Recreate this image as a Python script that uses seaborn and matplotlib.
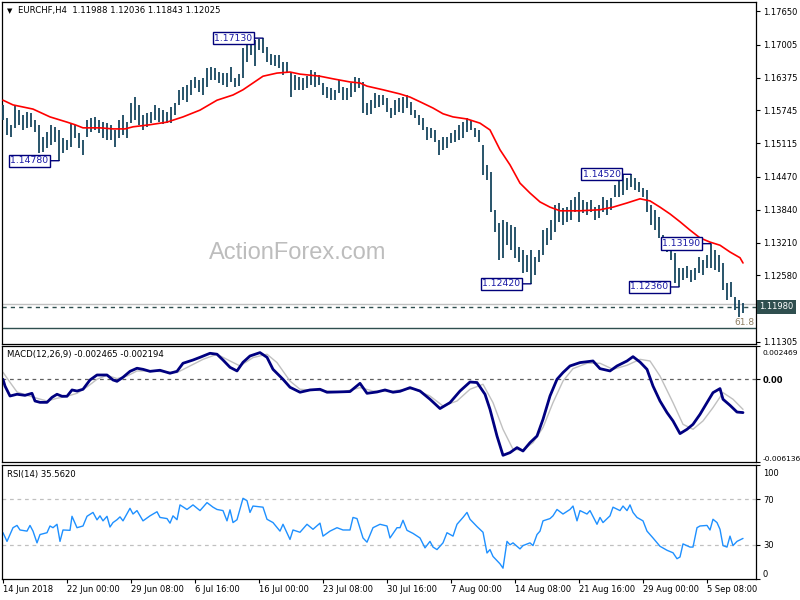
import numpy as np
import matplotlib
matplotlib.use("Agg")
import matplotlib.pyplot as plt
import matplotlib.transforms as mtransforms
import seaborn as sns

sns.set_style("white")
plt.rcParams["font.family"] = ["DejaVu Sans"]

# ---------------- data ----------------
highs = [1.1585, 1.1560, 1.1547, 1.1585, 1.1575, 1.1566, 1.1571, 1.1570, 1.1556, 1.1547,
         1.1524, 1.1533, 1.1547, 1.1543, 1.1537, 1.1522, 1.1518, 1.1550, 1.1547, 1.1531,
         1.1518, 1.1556, 1.1560, 1.1562, 1.1556, 1.1552, 1.1550, 1.1547, 1.1537, 1.1556,
         1.1566, 1.1552, 1.1589, 1.1600, 1.1585, 1.1566, 1.1570, 1.1571, 1.1585, 1.1579,
         1.1575, 1.1571, 1.1581, 1.1589, 1.1614, 1.1619, 1.1623, 1.1633, 1.1639, 1.1633,
         1.1637, 1.1656, 1.1658, 1.1656, 1.1648, 1.1646, 1.1646, 1.1658, 1.1637, 1.1644,
         1.1694, 1.1710, 1.1711, 1.1709, 1.1712, 1.1713, 1.1696, 1.1683, 1.1681, 1.1681,
         1.1667, 1.1667, 1.1648, 1.1642, 1.1639, 1.1637, 1.1640, 1.1652, 1.1648, 1.1642,
         1.1627, 1.1619, 1.1617, 1.1614, 1.1633, 1.1619, 1.1617, 1.1627, 1.1639, 1.1637,
         1.1629, 1.1589, 1.1594, 1.1608, 1.1604, 1.1604, 1.1598, 1.1579, 1.1594, 1.1598,
         1.1600, 1.1604, 1.1591, 1.1575, 1.1566, 1.1560, 1.1543, 1.1541, 1.1537, 1.1518,
         1.1524, 1.1524, 1.1531, 1.1537, 1.1547, 1.1552, 1.1560, 1.1556, 1.1541, 1.1537,
         1.1508, 1.1470, 1.1456, 1.1384, 1.1359, 1.1364, 1.1361, 1.1355, 1.1351, 1.1313,
         1.1307, 1.1297, 1.1307, 1.1293, 1.1307, 1.1345, 1.1349, 1.1364, 1.1393, 1.1397,
         1.1387, 1.1389, 1.1403, 1.1408, 1.1418, 1.1403, 1.1399, 1.1403, 1.1389, 1.1393,
         1.1408, 1.1403, 1.1407, 1.1431, 1.1441, 1.1451, 1.1445, 1.1452, 1.1445, 1.1437,
         1.1426, 1.1422, 1.1393, 1.1384, 1.1370, 1.1336, 1.1326, 1.1320, 1.1301, 1.1272,
         1.1272, 1.1276, 1.1269, 1.1272, 1.1293, 1.1288, 1.1297, 1.1319, 1.1307, 1.1297,
         1.1282, 1.1244, 1.1246, 1.1217, 1.1211, 1.1205]
lows = [1.1556, 1.1527, 1.1524, 1.1541, 1.1547, 1.1537, 1.1541, 1.1543, 1.1533, 1.1493,
        1.1495, 1.1502, 1.1508, 1.1514, 1.1478, 1.1493, 1.1499, 1.1504, 1.1522, 1.1502,
        1.1489, 1.1524, 1.1533, 1.1537, 1.1531, 1.1522, 1.1518, 1.1518, 1.1504, 1.1522,
        1.1527, 1.1522, 1.1550, 1.1556, 1.1547, 1.1537, 1.1543, 1.1550, 1.1556, 1.1552,
        1.1548, 1.1550, 1.1550, 1.1566, 1.1585, 1.1594, 1.1591, 1.1604, 1.1617, 1.1610,
        1.1604, 1.1619, 1.1633, 1.1633, 1.1627, 1.1623, 1.1619, 1.1629, 1.1619, 1.1621,
        1.1637, 1.1667, 1.1681, 1.1660, 1.1690, 1.1685, 1.1667, 1.1661, 1.1660, 1.1656,
        1.1642, 1.1648, 1.1600, 1.1614, 1.1614, 1.1614, 1.1617, 1.1623, 1.1619, 1.1623,
        1.1604, 1.1598, 1.1594, 1.1594, 1.1608, 1.1594, 1.1594, 1.1600, 1.1610, 1.1617,
        1.1570, 1.1566, 1.1568, 1.1579, 1.1581, 1.1585, 1.1571, 1.1560, 1.1566, 1.1571,
        1.1570, 1.1579, 1.1566, 1.1560, 1.1547, 1.1537, 1.1518, 1.1522, 1.1514, 1.1489,
        1.1499, 1.1502, 1.1512, 1.1514, 1.1518, 1.1522, 1.1533, 1.1537, 1.1524, 1.1514,
        1.1451, 1.1441, 1.1380, 1.1341, 1.1288, 1.1292, 1.1316, 1.1307, 1.1292, 1.1284,
        1.1263, 1.1265, 1.1242, 1.1259, 1.1284, 1.1297, 1.1316, 1.1326, 1.1341, 1.1361,
        1.1355, 1.1361, 1.1364, 1.1380, 1.1361, 1.1378, 1.1374, 1.1380, 1.1364, 1.1368,
        1.1380, 1.1374, 1.1384, 1.1408, 1.1408, 1.1412, 1.1422, 1.1428, 1.1422, 1.1418,
        1.1408, 1.1380, 1.1355, 1.1345, 1.1330, 1.1307, 1.1303, 1.1288, 1.1244, 1.1236,
        1.1249, 1.1253, 1.1246, 1.1249, 1.1263, 1.1259, 1.1272, 1.1272, 1.1269, 1.1265,
        1.1230, 1.1211, 1.1217, 1.1192, 1.1178, 1.1186]

# moving average (red line), bar index -> price
ma_bar = [0, 2.5, 7.5, 11.75, 16, 18, 20, 24.25, 27.5, 30.5,
          32.5, 36.75, 41, 45, 49.25, 53.5, 57.5, 60, 62.5, 65,
          68.5, 71.75, 74.25, 79.25, 82.5, 86.75, 89.25, 91, 95, 99.25,
          101.75, 104.25, 107.5, 110, 112.5, 116, 119.25, 121.75, 124.25, 126.75,
          129.25, 131.75, 134.25, 136.75, 139.25, 144.25, 149.25, 152.5, 156, 159.25,
          161.75, 164.25, 166.75, 169.25, 171.75, 174.25, 176.75, 179.25, 181.75, 184.25, 185]
ma_val = [1.1594, 1.1585, 1.1577, 1.1562, 1.1552, 1.1547, 1.1541, 1.1541, 1.1539, 1.1539,
          1.1543, 1.1547, 1.1552, 1.1562, 1.1575, 1.1594, 1.1604, 1.1614, 1.1627, 1.1640,
          1.1646, 1.1648, 1.1644, 1.1640, 1.1635, 1.1629, 1.1627, 1.1621, 1.1614, 1.1606,
          1.1600, 1.1591, 1.1579, 1.1568, 1.1562, 1.1558, 1.1550, 1.1537, 1.1499, 1.1470,
          1.1435, 1.1416, 1.1399, 1.1389, 1.1382, 1.1382, 1.1384, 1.1389, 1.1397, 1.1405,
          1.1401, 1.1389, 1.1376, 1.1361, 1.1345, 1.1330, 1.1322, 1.1316, 1.1303, 1.1292, 1.1282]

# swing labels
pivot_bars = [14, 65, 132, 157, 169, 177]
pivot_prices = [1.14780, 1.17130, 1.12420, 1.14520, 1.12360, 1.13190]

FIB_618 = 1.11573
ASK = 1.12033
BID = 1.11980
price_ticks = [1.17650, 1.17005, 1.16375, 1.15745, 1.15115, 1.14470,
               1.13840, 1.13210, 1.12580, 1.11305]

macd_bar = [0, 0.5, 1.75, 3.5, 5.5, 7.25, 8, 9.25, 11, 12.25,
            13.5, 14.75, 16, 17.25, 18.5, 20, 21.75, 23.5, 26, 27.5,
            28.5, 30, 31.75, 33.5, 35, 36.75, 39.25, 41.75, 43.5, 45,
            47.5, 49.25, 51.75, 53.5, 55, 56.75, 58.5, 60, 61.75, 64.25,
            66, 67.5, 70, 71.75, 74.25, 76.75, 79.25, 81, 83.5, 86.75,
            89.25, 91, 93.5, 95.5, 97.5, 99.25, 101.75, 104.25, 106.75, 109.25,
            111.75, 114.25, 116.75, 118.5, 120.5, 121.75, 123.5, 125, 126.75, 128.5,
            130, 131.75, 133.5, 135, 136.75, 138.5, 140, 141.75, 144.25, 147.5,
            149.25, 151.75, 153.5, 156, 157.5, 159.25, 161, 162.5, 164.25, 166,
            167.5, 169.25, 171, 172.5, 174.25, 176, 177.5, 179.25, 180, 181.75,
            183.5, 185]
macd_val = [0.0, -0.00050, -0.00124, -0.00111, -0.00119, -0.00104, -0.00161, -0.00171, -0.00171, -0.00134,
            -0.00111, -0.00126, -0.00126, -0.00079, -0.00087, -0.00074, -0.00005, 0.00032, 0.00032, -0.00005,
            -0.00015, 0.00015, 0.00059, 0.00082, 0.00074, 0.00059, 0.00067, 0.00045, 0.00059, 0.00119,
            0.00143, 0.00163, 0.00193, 0.00186, 0.00143, 0.00089, 0.00062, 0.00126, 0.00173, 0.00198,
            0.00163, 0.00074, 0.0, -0.00059, -0.00096, -0.00079, -0.00074, -0.00096, -0.00094, -0.00091,
            -0.00030, -0.00104, -0.00094, -0.00079, -0.00096, -0.00089, -0.00062, -0.00087, -0.00148, -0.00217,
            -0.00173, -0.00087, -0.00020, -0.00024, -0.00111, -0.00223, -0.00421, -0.00564, -0.00544, -0.00507,
            -0.00532, -0.00470, -0.00421, -0.00297, -0.00124, 0.0, 0.00050, 0.00099, 0.00124, 0.00136,
            0.00079, 0.00062, 0.00099, 0.00136, 0.00168, 0.00128, 0.00074, -0.00050, -0.00161, -0.00247,
            -0.00309, -0.00403, -0.00371, -0.00334, -0.00260, -0.00173, -0.00099, -0.00069, -0.00148, -0.00193,
            -0.00243, -0.00247]

signal_bar = [0, 1.75, 3.5, 6, 8.5, 11, 13.5, 16, 18.5, 21,
              23.5, 26, 28.5, 31, 33.5, 36.75, 41, 43.5, 46.75, 50,
              53.5, 56.75, 59.25, 62.5, 66, 68.5, 71.75, 74.25, 76.75, 81,
              85, 89.25, 92.5, 96.75, 99.25, 102.5, 106.75, 110, 113.5, 116.75,
              120, 122.5, 125, 127.5, 130, 132.5, 135, 137.5, 140, 142.5,
              146, 149.25, 152.5, 156, 159.25, 161.75, 164.25, 167.5, 170, 172.5,
              175, 177.5, 180, 182.5, 185]
signal_val = [0.00052, -0.00022, -0.00094, -0.00119, -0.00141, -0.00161, -0.00141, -0.00126, -0.00104, -0.00057,
              0.0, 0.00030, 0.00005, 0.00024, 0.00062, 0.00062, 0.00054, 0.00050, 0.00099, 0.00148,
              0.00186, 0.00136, 0.00099, 0.00161, 0.00186, 0.00124, -0.00013, -0.00074, -0.00079, -0.00087,
              -0.00094, -0.00062, -0.00087, -0.00091, -0.00079, -0.00069, -0.00124, -0.00198, -0.00161, -0.00074,
              -0.00037, -0.00173, -0.00371, -0.00519, -0.00525, -0.00470, -0.00358, -0.00173, -0.00013, 0.00079,
              0.00119, 0.00119, 0.00074, 0.00104, 0.00148, 0.00136, 0.00024, -0.00173, -0.00334, -0.00371,
              -0.00309, -0.00210, -0.00099, -0.00148, -0.00223]
MACD_MAX = 0.002469
MACD_MIN = -0.006136

rsi_bar = [0, 1, 2.5, 3.5, 4.25, 6, 6.75, 7.5, 8.5, 9.25,
           11, 11.75, 12.5, 13.5, 14.25, 15, 16.75, 17.25, 18.5, 20,
           21, 22.5, 23.5, 24.25, 25, 26, 26.75, 27.5, 28.5, 29.25,
           30, 31.75, 32.5, 33.5, 35, 36.75, 38.5, 39.25, 41, 41.75,
           42.5, 43.5, 44.25, 46, 47.5, 49.25, 51, 52.5, 53.5, 55,
           56, 56.75, 57.5, 58.5, 60, 61, 61.75, 62.5, 65, 66,
           67.5, 69.25, 70, 71.75, 72.5, 74.25, 76, 77.5, 79.25, 80,
           81.75, 83.5, 85, 86.75, 87.5, 88.5, 90, 91, 92.5, 94.25,
           96, 96.75, 98.5, 99.25, 100, 101, 102.5, 104.25, 105.5, 106.75,
           107.5, 108.5, 110, 111, 112.5, 113.5, 115, 116, 116.75, 118.5,
           120, 121, 121.75, 122.5, 124.25, 125, 126, 126.75, 127.5, 129.25,
           130, 131.75, 132.5, 133.5, 134.25, 135, 136.75, 137.5, 138.5, 140,
           141.75, 142.5, 143.5, 144.25, 146, 146.75, 148.5, 149.25, 150, 151.75,
           152.5, 154.25, 155, 156, 156.75, 157.5, 158.5, 160, 161, 162.5,
           164.25, 166, 167.5, 168.5, 169.25, 170, 171.75, 172.5, 173.5, 174.25,
           176, 176.75, 177.5, 178.5, 179.25, 180, 181, 181.75, 182.5, 183.5,
           185]
rsi_val = [40.6, 33, 45, 47, 43, 42, 47, 42, 31.7, 39,
           40.6, 46.5, 45, 48, 33, 43, 42.7, 55, 45, 46.5,
           55, 58.4, 51.9, 55.4, 51, 55, 45.6, 49.5, 52, 54.5,
           51, 62, 57, 60, 51, 55.4, 59, 54, 53, 49,
           55.4, 52, 65, 61, 65, 60, 67, 63, 61, 60,
           51, 60.7, 49.5, 52, 70.8, 68.7, 58.4, 64, 63, 52.4,
           49.5, 42, 48, 34.7, 43, 41, 48, 43.6, 49, 37.6,
           42, 45, 43, 43, 54, 53, 36, 32.3, 45, 48,
           46.5, 36, 45, 45, 51.5, 42.7, 40, 36, 27.3, 33,
           28, 25.8, 31.7, 40.6, 37.6, 48, 54, 58.4, 52.4, 46,
           41, 22.8, 25.8, 19.8, 13.3, 9.5, 33, 30, 31.7, 26.4,
           29.3, 31.7, 29.3, 39, 42, 51, 53, 55.4, 61, 57,
           61, 64, 51, 60, 57, 60, 48, 54, 49.5, 55.4,
           63, 60, 64, 60, 65, 58.4, 54, 51, 42, 36,
           28.7, 25.2, 23, 17.8, 19.3, 30.8, 28, 28, 45, 46.5,
           47, 43, 52.4, 49.5, 43.6, 29.3, 28, 37.6, 29.3, 33,
           35.6]

date_ticks = [0, 16, 32, 48, 64, 80, 96, 112, 128, 144, 160, 176]
date_labels = ["14 Jun 2018", "22 Jun 00:00", "29 Jun 08:00", "6 Jul 16:00",
               "16 Jul 00:00", "23 Jul 08:00", "30 Jul 16:00", "7 Aug 00:00",
               "14 Aug 08:00", "21 Aug 16:00", "29 Aug 00:00", "5 Sep 08:00"]

BAR_COLOR = "#17465f"
LABEL_TEXT = "#1a1aa6"
LABEL_EDGE = "#00007a"
TICK_SIZE = 6.0

# ---------------- layout ----------------
fig = plt.figure(figsize=(8, 6), dpi=100)
ax = fig.add_axes([0.0025, 0.4267, 0.9425, 0.57])
ax_macd = fig.add_axes([0.0025, 0.23, 0.9425, 0.1933])
ax_rsi = fig.add_axes([0.0025, 0.035, 0.9425, 0.19])

for a in (ax, ax_macd, ax_rsi):
    a.set_xlim(-0.25, 188.25)
    for sp in a.spines.values():
        sp.set_color("black")
        sp.set_linewidth(0.9)
    a.yaxis.tick_right()
    a.tick_params(axis="y", direction="out", length=3, width=0.8, pad=2,
                  labelsize=TICK_SIZE, colors="black")

# nudges for the end labels of the indicator scales
shift_down = mtransforms.ScaledTranslation(0, -4 / 100, fig.dpi_scale_trans)

# ---------------- price panel ----------------
bars = np.arange(len(highs))
ax.vlines(bars, lows, highs, color=BAR_COLOR, linewidth=1.3, zorder=3)
sns.lineplot(x=ma_bar, y=ma_val, ax=ax, color="#ff0000", linewidth=1.2,
             sort=False, estimator=None, zorder=4)

ax.axhline(FIB_618, color="#2f4f4f", linewidth=1.0, zorder=2)
ax.axhline(ASK, color="#c0c0c0", linewidth=1.0, zorder=2)
ax.axhline(BID, color="#2f4f4f", linewidth=1.0, linestyle=(0, (3, 3)), zorder=2)

ax.set_ylim(1.11267, 1.17823)
ax.set_yticks(price_ticks)
ax.set_yticklabels([f"{v:.5f}" for v in price_ticks])
ax.set_xticks([])
ax.set_xlabel("")
ax.set_ylabel("")

blend = mtransforms.blended_transform_factory(ax.transAxes, ax.transData)
ax.text(0.998, FIB_618 + 0.0002, "61.8", transform=blend, ha="right", va="bottom",
        fontsize=6.5, color="#8f7f62")
ax.text(1.004, BID, f"{BID:.5f}", transform=blend, ha="left", va="center",
        fontsize=TICK_SIZE, color="white", clip_on=False,
        bbox=dict(boxstyle="square,pad=0.3", fc="#2f4f4f", ec="none"))

for b, p in zip(pivot_bars, pivot_prices):
    ax.annotate(f"{p:.5f}", xy=(b, p), xytext=(-7.5, 0), textcoords="offset points",
                ha="right", va="center", fontsize=6.7, color=LABEL_TEXT, zorder=6,
                bbox=dict(boxstyle="square,pad=0.18", fc="white", ec=LABEL_EDGE, lw=1),
                arrowprops=dict(arrowstyle="-", color=LABEL_EDGE, lw=1,
                                shrinkA=0, shrinkB=0))

fig.text(298 / 800, 1 - 253 / 600, "ActionForex.com", ha="center", va="center",
         fontsize=17, color="#bdbdbd", family="Liberation Sans", zorder=0)
fig.text(10 / 800, 1 - 11 / 600, "\u25bc", ha="center", va="center", fontsize=5, color="black")
fig.text(18 / 800, 1 - 11 / 600, "EURCHF,H4  1.11988 1.12036 1.11843 1.12025",
         ha="left", va="center", fontsize=6.1, color="black")

# ---------------- MACD panel ----------------
ax_macd.axhline(0, color="#606060", linewidth=0.9, linestyle=(0, (3, 3)))
sns.lineplot(x=signal_bar, y=signal_val, ax=ax_macd, color="#c0c0c0", linewidth=1.0,
             sort=False, estimator=None)
sns.lineplot(x=macd_bar, y=macd_val, ax=ax_macd, color="#000080", linewidth=2.0,
             sort=False, estimator=None)
ax_macd.set_ylim(MACD_MIN, MACD_MAX)
ax_macd.set_yticks([MACD_MAX, 0.0, MACD_MIN])
ax_macd.set_yticklabels([f"{MACD_MAX:.6f}", "0.00", f"{MACD_MIN:.6f}"])
mlabels = ax_macd.get_yticklabels()
mlabels[0].set_va("top")
mlabels[0].set_fontsize(5.4)
mlabels[0].set_transform(mlabels[0].get_transform() + shift_down)
mlabels[1].set_fontweight("bold")
mlabels[2].set_va("bottom")
mlabels[2].set_fontsize(5.4)
ax_macd.set_xticks([])
ax_macd.set_xlabel("")
ax_macd.set_ylabel("")
fig.text(7 / 800, 1 - 355 / 600, "MACD(12,26,9) -0.002465 -0.002194",
         ha="left", va="center", fontsize=6.1, color="black")

# ---------------- RSI panel ----------------
for lvl in (70, 30):
    ax_rsi.axhline(lvl, color="#c0c0c0", linewidth=0.9, linestyle=(0, (3, 3)))
sns.lineplot(x=rsi_bar, y=rsi_val, ax=ax_rsi, color="#1e90ff", linewidth=1.0,
             sort=False, estimator=None)
ax_rsi.set_ylim(0, 100)
ax_rsi.set_yticks([100, 70, 30, 0])
ax_rsi.set_yticklabels(["100", "70", "30", "0"])
rlabels = ax_rsi.get_yticklabels()
rlabels[0].set_va("top")
rlabels[0].set_transform(rlabels[0].get_transform() + shift_down)
rlabels[3].set_va("bottom")
ax_rsi.set_xticks(date_ticks)
ax_rsi.set_xticklabels(date_labels)
ax_rsi.tick_params(axis="x", direction="out", length=3, width=0.8, pad=1,
                   labelsize=TICK_SIZE, colors="black", bottom=True)
plt.setp(ax_rsi.get_xticklabels(), ha="left")
ax_rsi.set_xlabel("")
ax_rsi.set_ylabel("")
fig.text(7 / 800, 1 - 474 / 600, "RSI(14) 35.5620",
         ha="left", va="center", fontsize=6.1, color="black")

fig.savefig("out.png", dpi=100)
